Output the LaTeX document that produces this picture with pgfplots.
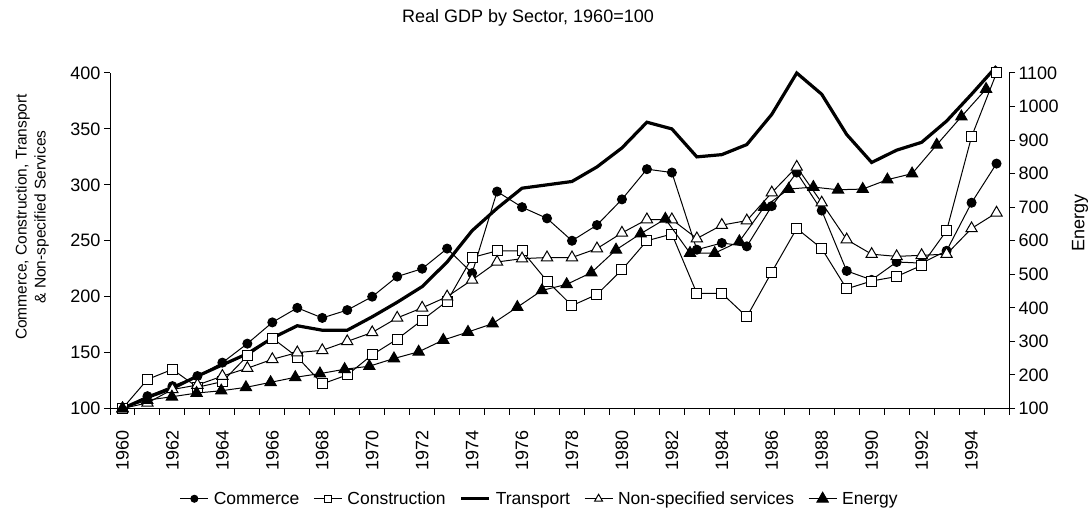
\documentclass[border=0pt]{standalone}
\usepackage{fontspec}
\setmainfont{Liberation Sans}
\usepackage{pgfplots}
\pgfplotsset{compat=1.18}
\usepackage{pgfplotstable}

\pgfplotstableread{
year com con tra non
1960 100 100 100 100
1961 111 126 110 105
1962 120 135 118 117
1963 129 119 129 121
1964 141 124 139 129
1965 158 147 149 136
1966 177 163 163 144
1967 190 146 174 150
1968 181 122 170 152
1969 188 130 170 160
1970 200 148 182 168
1971 218 162 195 181
1972 225 179 209 190
1973 243 196 231 200
1974 221 235 259 215
1975 294 241 279 231
1976 280 241 297 234
1977 270 214 300 235
1978 250 192 303 235
1979 264 202 316 243
1980 287 224 333 257
1981 314 250 356 269
1982 311 256 350 269
1983 242 203 325 252
1984 248 203 327 264
1985 245 182 336 268
1986 281 222 363 293
1987 311 261 400 316
1988 277 243 381 284
1989 223 207 345 251
1990 215 214 320 238
1991 231 218 331 236
1992 230 228 338 237
1993 241 259 357 238
1994 284 343 381 261
1995 319 400 406 275
}\sectors

\pgfplotstableread{
year energy
1960 100
1961 125
1962 135
1963 146
1964 153
1965 163
1966 178
1967 193
1968 204
1969 217
1970 226
1971 249
1972 269
1973 304
1974 328
1975 353
1976 402
1977 452
1978 470
1979 505
1980 573
1981 621
1982 665
1983 563
1984 563
1985 598
1986 700
1987 754
1988 760
1989 752
1990 754
1991 782
1992 800
1993 886
1994 970
1995 1052
}\energytab

\pgfplotsset{
  comstyle/.style={black, line width=1pt, mark=*, mark size=4.5pt, mark options={fill=black, solid}},
  constyle/.style={black, line width=1pt, mark=square*, mark size=5pt, mark options={fill=white, solid}},
  trastyle/.style={black, line width=3.2pt, no markers},
  nonstyle/.style={black, line width=1pt, mark=triangle*, mark size=6.5pt, mark options={fill=white, solid, line width=1pt}},
  enestyle/.style={black, line width=1pt, mark=triangle*, mark size=6.5pt, mark options={fill=black, solid}},
}

\newcommand{\tickfont}{\fontsize{18}{18}\selectfont}

\begin{document}
\begin{tikzpicture}
\useasboundingbox (0,0) rectangle (1091pt,512pt);

\begin{axis}[
  width=899pt, height=335.5pt, scale only axis,
  at={(110pt,103.5pt)}, anchor=south west,
  xmin=1959.5, xmax=1995.5, ymin=100, ymax=400,
  axis x line*=bottom, axis y line*=left,
  axis line style={black, line width=1pt},
  ytick={100,150,...,400},
  xtick={1960,1962,...,1994},
  minor xtick={1959.5,1960.5,...,1995.5},
  major x tick style={draw=none},
  minor x tick style={black, line width=1pt},
  major y tick style={black, line width=1pt},
  tick align=outside, major tick length=6pt, minor tick length=6pt,
  /pgf/number format/assume math mode=true,
  /pgf/number format/1000 sep={},
  ticklabel style={font=\tickfont},
  x tick label style={rotate=90, anchor=east},
  xticklabel shift=12pt,
  clip=false,
]
\addplot[comstyle] table[x=year, y=com] {\sectors};
\addplot[constyle] table[x=year, y=con] {\sectors};
\addplot[trastyle] table[x=year, y=tra] {\sectors};
\addplot[nonstyle] table[x=year, y=non] {\sectors};
\end{axis}

\begin{axis}[
  width=899pt, height=335.5pt, scale only axis,
  at={(110pt,103.5pt)}, anchor=south west,
  xmin=1959.49, xmax=1995.93, ymin=100, ymax=1100,
  axis x line=none, axis y line*=right,
  axis line style={black, line width=1pt},
  ytick={100,200,...,1100},
  major y tick style={black, line width=1pt},
  tick align=outside, major tick length=6pt,
  /pgf/number format/assume math mode=true,
  /pgf/number format/1000 sep={},
  ticklabel style={font=\tickfont},
  clip=false,
  legend style={at={(0.478,-0.269)}, anchor=center, draw=none, fill=none,
    font=\fontsize{17.5}{17.5}\selectfont,
    /tikz/every even column/.append style={column sep=12pt},
    /tikz/every odd column/.append style={column sep=3pt}},
  legend columns=-1,
  legend image code/.code={\draw[#1, mark repeat=2, mark phase=2] plot coordinates {(0pt,0pt) (14pt,0pt) (28pt,0pt)};},
]
\addlegendimage{comstyle, mark size=3.5pt}\addlegendentry{Commerce}
\addlegendimage{constyle, mark size=3.5pt}\addlegendentry{Construction}
\addlegendimage{trastyle}\addlegendentry{Transport}
\addlegendimage{nonstyle, mark size=4.5pt}\addlegendentry{Non-specified services}
\addplot[enestyle] table[x=year, y=energy] {\energytab};
\addlegendentry{Energy}
\end{axis}

\node[font=\fontsize{18}{18}\selectfont] at (528pt,494pt) {Real GDP by Sector, 1960=100};
\node[rotate=90, align=center, font=\fontsize{15.5}{19}\selectfont] at (32pt,295pt) {Commerce, Construction, Transport\\ \& Non-specified Services};
\node[rotate=90, font=\fontsize{18}{18}\selectfont] at (1080pt,289pt) {Energy};
\end{tikzpicture}
\end{document}
